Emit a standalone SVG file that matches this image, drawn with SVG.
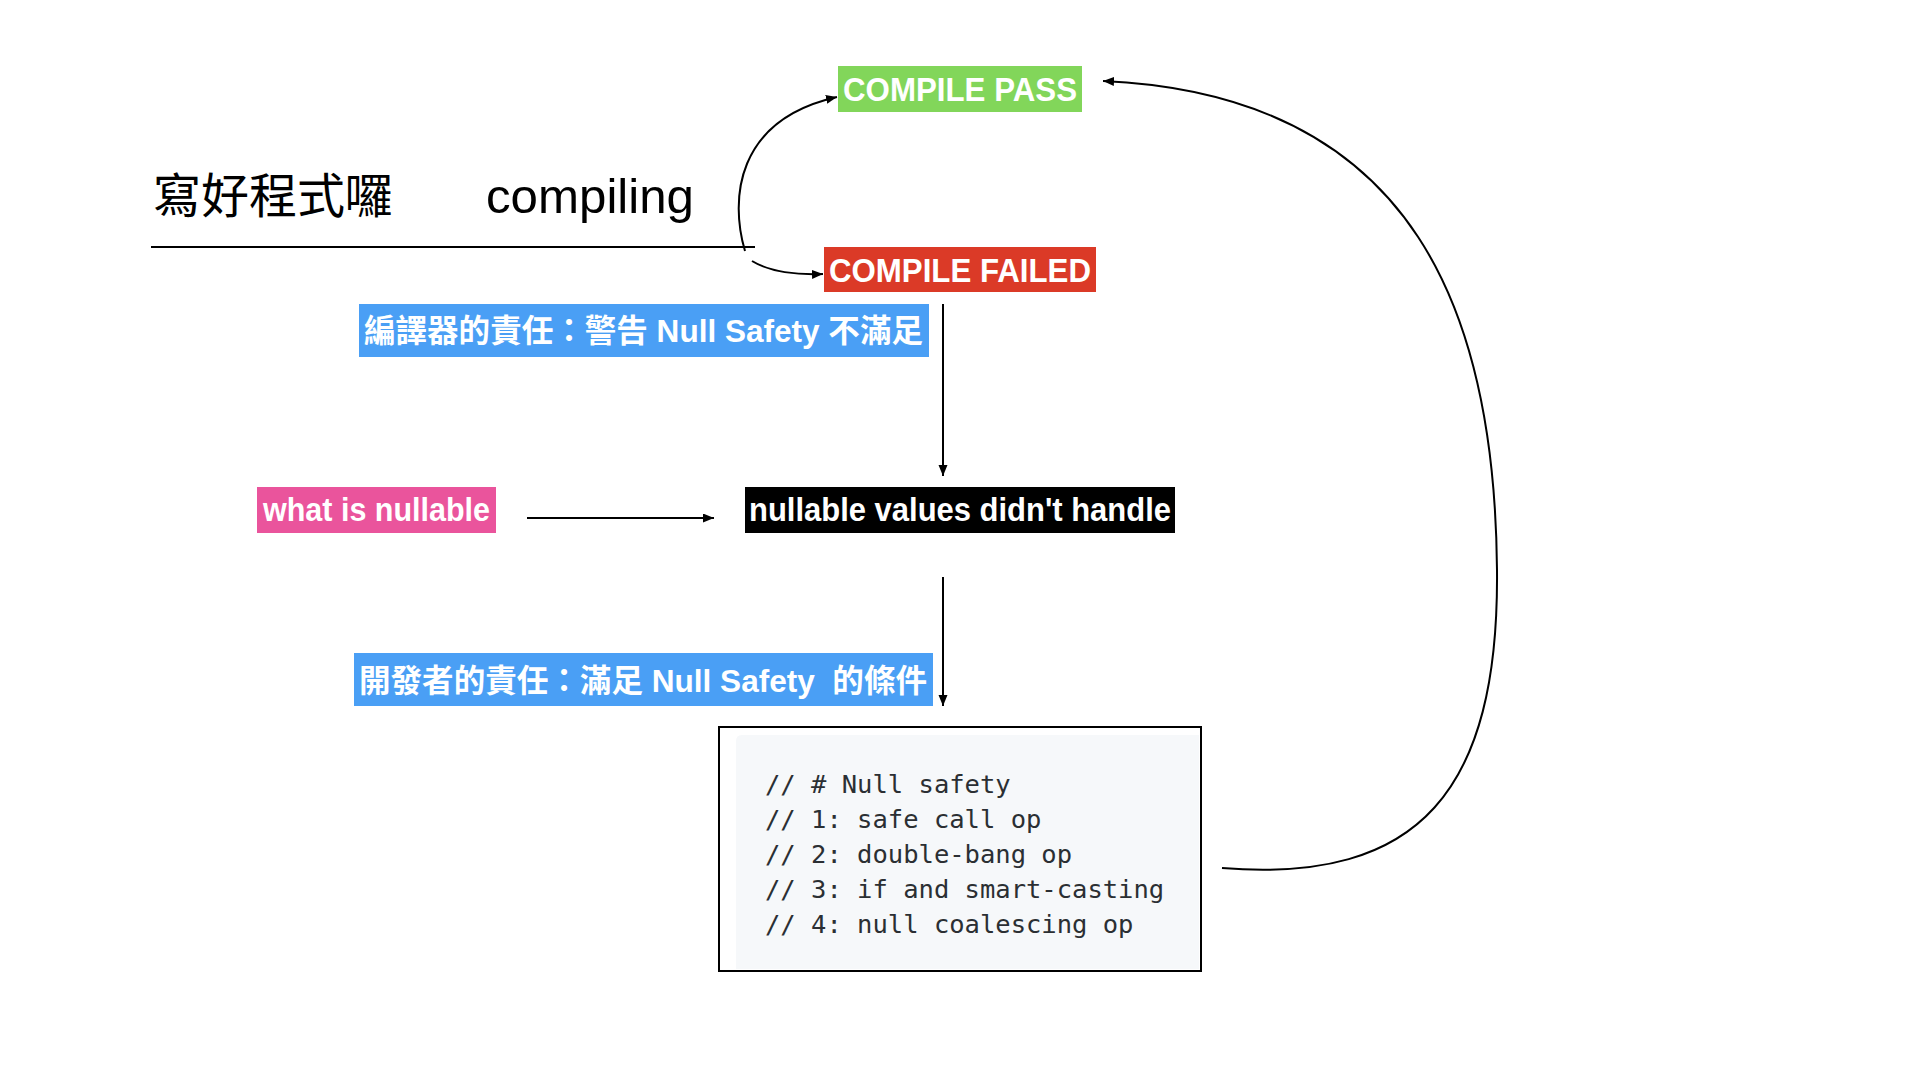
<svg xmlns="http://www.w3.org/2000/svg" width="1920" height="1080" viewBox="0 0 1920 1080">
<style>
.lbl{font-family:"Liberation Sans","Noto Sans CJK TC",sans-serif;font-size:33px;fill:#fff;font-weight:bold}
.cjk{font-family:"Liberation Sans","Noto Sans CJK TC",sans-serif;font-size:32px;fill:#fff;font-weight:bold}
.head{font-family:"Liberation Sans","Noto Sans CJK TC",sans-serif;font-size:48px;fill:#000}
.code{font-family:"DejaVu Sans Mono",monospace;font-size:25.5px;fill:#2b2f33}
.conn{fill:none;stroke:#000;stroke-width:2}
</style>
<defs>
<marker id="ah" markerUnits="userSpaceOnUse" markerWidth="12" markerHeight="10" refX="11" refY="4.5" orient="auto">
<path d="M0,0 L11,4.5 L0,9 z" fill="#000"/>
</marker>
</defs>
<rect width="1920" height="1080" fill="#fff"/>

<g id="title">
<text class="head" x="153" y="213">寫好程式囉</text>
<text class="head" x="486" y="213" textLength="208" lengthAdjust="spacingAndGlyphs">compiling</text>
<line x1="151" y1="247" x2="755" y2="247" stroke="#000" stroke-width="2"/>
</g>

<g id="compile-pass">
<rect x="838" y="66" width="244" height="46" fill="#82d65a"/>
<text class="lbl" x="843" y="101" textLength="234" lengthAdjust="spacingAndGlyphs">COMPILE PASS</text>
</g>

<g id="compile-failed">
<rect x="824" y="247" width="272" height="45" fill="#db3a27"/>
<text class="lbl" x="829" y="282" textLength="262" lengthAdjust="spacingAndGlyphs">COMPILE FAILED</text>
</g>

<g id="compiler-duty">
<rect x="359" y="304" width="570" height="53" fill="#4a9ff5"/>
<text class="cjk" x="364" y="342" textLength="559" lengthAdjust="spacingAndGlyphs">編譯器的責任：警告 Null Safety 不滿足</text>
</g>

<g id="what-is-nullable">
<rect x="257" y="487" width="239" height="46" fill="#ea549c"/>
<text class="lbl" x="263" y="521" textLength="227" lengthAdjust="spacingAndGlyphs">what is nullable</text>
</g>

<g id="nullable-values">
<rect x="745" y="487" width="430" height="46" fill="#000"/>
<text class="lbl" x="749" y="521" textLength="422" lengthAdjust="spacingAndGlyphs">nullable values didn't handle</text>
</g>

<g id="developer-duty">
<rect x="354" y="653" width="579" height="53" fill="#4a9ff5"/>
<text class="cjk" x="359" y="692" textLength="568" lengthAdjust="spacingAndGlyphs" xml:space="preserve">開發者的責任：滿足 Null Safety  的條件</text>
</g>

<g id="code-box">
<rect x="719" y="727" width="482" height="244" fill="#fff" stroke="#000" stroke-width="2"/>
<path d="M742,735 H1199 V969 H736 V741 Q736,735 742,735 z" fill="#f6f8fa"/>
<text class="code" x="765" y="793">// # Null safety</text>
<text class="code" x="765" y="828">// 1: safe call op</text>
<text class="code" x="765" y="863">// 2: double-bang op</text>
<text class="code" x="765" y="898">// 3: if and smart-casting</text>
<text class="code" x="765" y="933">// 4: null coalescing op</text>
</g>

<g id="connectors">
<path class="conn" d="M745,251 C730,200 735,120 837,97" marker-end="url(#ah)"/>
<path class="conn" d="M752,261 C770,272 795,275 823,274" marker-end="url(#ah)"/>
<line class="conn" x1="943" y1="304" x2="943" y2="476" marker-end="url(#ah)"/>
<line class="conn" x1="527" y1="518" x2="714" y2="518" marker-end="url(#ah)"/>
<line class="conn" x1="943" y1="577" x2="943" y2="706" marker-end="url(#ah)"/>
<path class="conn" d="M1222,868 C1420,884 1499,790 1497,570 C1495,320 1420,95 1103,81" marker-end="url(#ah)"/>
</g>
</svg>
